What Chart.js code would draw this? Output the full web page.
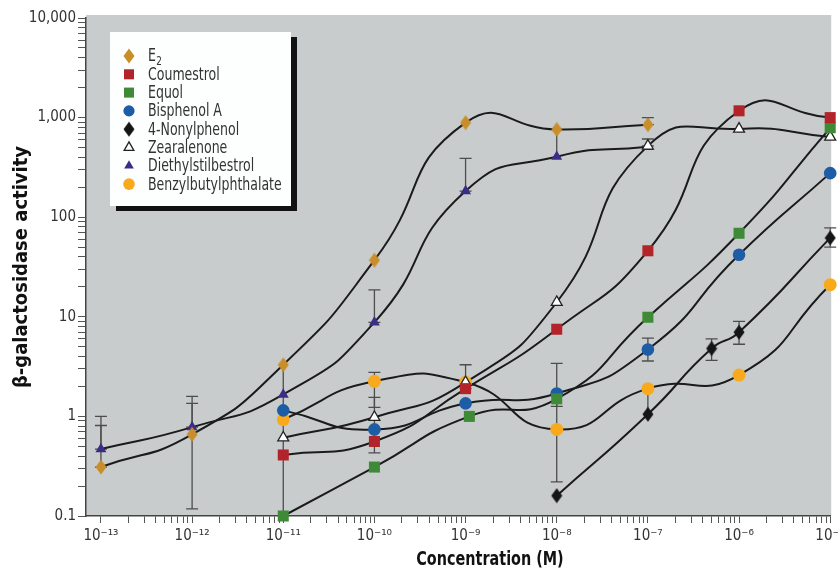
<!DOCTYPE html>
<html><head><meta charset="utf-8">
<script src="https://cdn.jsdelivr.net/npm/chart.js@4.4.1/dist/chart.umd.min.js"></script>
<style>html,body{margin:0;padding:0;background:#fff;} #wrap{width:838px;height:571px;position:relative;}</style>
</head><body><div id="wrap"><canvas id="c" width="838" height="571"></canvas></div>
<script>
// ---------- DATA ----------
const seriesNames = ['E\u2082','Coumestrol','Equol','Bisphenol A','4-Nonylphenol','Zearalenone','Diethylstilbestrol','Benzylbutylphthalate'];
const e2Conc    = [1e-13,1e-12,1e-11,1e-10,1e-9,1e-8,1e-7];
const e2Act     = [0.31,0.66,3.3,37,890,760,850];
const coumConc  = [1e-11,1e-10,1e-9,1e-8,1e-7,1e-6,1e-5];
const coumAct   = [0.41,0.56,1.9,7.5,46,1170,1000];
const equolConc = [1e-11,1e-10,1.1e-9,1e-8,1e-7,1e-6,1e-5];
const equolAct  = [0.1,0.31,1.0,1.5,9.9,69,790];
const bpaConc   = [1e-11,1e-10,1e-9,1e-8,1e-7,1e-6,1e-5];
const bpaAct    = [1.15,0.74,1.35,1.7,4.7,42,277];
const npConc    = [1e-8,1e-7,5e-7,1e-6,1e-5];
const npAct     = [0.16,1.05,4.8,7.0,62];
const zearConc  = [1e-11,1e-10,1e-9,1e-8,1e-7,1e-6,1e-5];
const zearAct   = [0.61,0.98,2.2,14,520,770,640];
const desConc   = [1e-13,1e-12,1e-11,1e-10,1e-9,1e-8,1e-7];
const desAct    = [0.47,0.78,1.66,8.8,183,405,510];
const bbpConc   = [1e-11,1e-10,1e-9,1e-8,1e-7,1e-6,1e-5];
const bbpAct    = [0.93,2.25,2.2,0.74,1.9,2.6,21];

// error bars (concentration, low, high, caps drawn?)
const errConc = [1e-13,1e-13,1e-12,1e-12,1e-11,1e-10,1e-10,1e-10,1e-9,1e-9,1e-8,1e-8,1e-8,1e-7,1e-7,1e-7,1e-7,5e-7,1e-6,1e-5];
const errLow  = [0.31,0.47,0.118,0.78,0.1,0.43,1.23,8.8,183,1.9,0.22,1.26,405,850,520,3.6,1.05,3.65,5.3,50];
const errHigh = [1.0,0.81,1.59,1.35,3.3,2.77,1.55,18.6,390,3.3,3.4,1.7,760,1000,610,6.1,1.9,6.0,9.0,78];
const errCaps = [1,1,1,1,0,1,1,1,1,1,1,1,0,1,1,1,0,1,1,1];

const xTickExp    = [-13,-12,-11,-10,-9,-8,-7,-6,-5];
const xTickLabels = ['10\u207B\u00B9\u00B3','10\u207B\u00B9\u00B2','10\u207B\u00B9\u00B9','10\u207B\u00B9\u2070','10\u207B\u2079','10\u207B\u2078','10\u207B\u2077','10\u207B\u2076','10\u207B\u2075'];
const yTickExp    = [-1,0,1,2,3,4];
const yTickLabels = ['0.1','1','10','100','1,000','10,000'];

const xTitle = 'Concentration (M)';
const yTitle = '\u03B2-galactosidase activity';

// ---------- STYLE ----------
const FONT = "'Liberation Sans Narrow','DejaVu Sans Condensed','Liberation Sans',sans-serif";
Chart.defaults.font.family = FONT;

function diamond(color, stroke) {
  const c = document.createElement('canvas');
  c.width = 12; c.height = 16;
  const g = c.getContext('2d');
  g.beginPath(); g.moveTo(6,0.5); g.lineTo(11.5,8); g.lineTo(6,15.5); g.lineTo(0.5,8); g.closePath();
  g.fillStyle = color; g.fill();
  if (stroke) { g.strokeStyle = stroke; g.lineWidth = 1; g.stroke(); }
  return c;
}

const styles = [
  {pointStyle: diamond('#c98e2a'), color:'#c98e2a', r:7, bw:0, bc:'#c98e2a'},
  {pointStyle: 'rect', color:'#b3232a', r:7.8, bw:0, bc:'#b3232a'},
  {pointStyle: 'rect', color:'#3e8a36', r:7.8, bw:0, bc:'#3e8a36'},
  {pointStyle: 'circle', color:'#1d5da6', r:6.3, bw:0, bc:'#1d5da6'},
  {pointStyle: diamond('#151515'), color:'#151515', r:7, bw:0, bc:'#151515'},
  {pointStyle: 'triangle', color:'#ffffff', r:6.3, bw:1.3, bc:'#222222'},
  {pointStyle: 'triangle', color:'#3a2d86', r:6.3, bw:0, bc:'#3a2d86'},
  {pointStyle: 'circle', color:'#f9aa1c', r:6.5, bw:0, bc:'#f9aa1c'}
];
const allConc = [e2Conc,coumConc,equolConc,bpaConc,npConc,zearConc,desConc,bbpConc];
const allAct  = [e2Act,coumAct,equolAct,bpaAct,npAct,zearAct,desAct,bbpAct];

const datasets = [];
allConc.forEach((cc, k) => {
  const pts = cc.map((x,i) => ({x, y: allAct[k][i]}));
  datasets.push({label: seriesNames[k] + ' line', data: pts, showLine: true, pointRadius: 0,
    borderColor: '#1b1b1b', borderWidth: 2, tension: 0.55, order: 2, clip: false});
  datasets.push({label: seriesNames[k], data: pts, showLine: false,
    pointStyle: styles[k].pointStyle, pointRadius: styles[k].r, pointHoverRadius: styles[k].r,
    pointBackgroundColor: styles[k].color, pointBorderColor: styles[k].bc, pointBorderWidth: styles[k].bw,
    order: 1, clip: false});
});

function decadeTicks(e0, e1) {
  const t = [];
  for (let e = e0; e < e1; e++) for (let m = 1; m <= 9; m++) t.push({value: m * Math.pow(10, e)});
  t.push({value: Math.pow(10, e1)});
  return t;
}
function labelFor(value, exps, labels) {
  const e = Math.round(Math.log10(value));
  if (Math.abs(Math.log10(value) - e) > 1e-6) return '';
  const i = exps.indexOf(e);
  return i >= 0 ? labels[i] : '';
}

const bgPlugin = {
  id: 'bg',
  beforeDraw(chart) {
    const {ctx, chartArea: a} = chart;
    ctx.save(); ctx.fillStyle = '#c9cccd';
    ctx.fillRect(a.left, a.top - 3, a.right - a.left + 1, a.bottom - a.top + 3);
    ctx.restore();
  }
};

const errPlugin = {
  id: 'errbars',
  beforeDatasetsDraw(chart) {
    const {ctx, scales: {x, y}} = chart;
    ctx.save(); ctx.strokeStyle = '#4d4d4d'; ctx.lineWidth = 1.3;
    errConc.forEach((c, i) => {
      const px = x.getPixelForValue(c);
      const y1 = y.getPixelForValue(errLow[i]), y2 = y.getPixelForValue(errHigh[i]);
      ctx.beginPath(); ctx.moveTo(px, y1); ctx.lineTo(px, y2);
      if (errCaps[i]) { ctx.moveTo(px-6, y1); ctx.lineTo(px+6, y1); ctx.moveTo(px-6, y2); ctx.lineTo(px+6, y2); }
      ctx.stroke();
    });
    ctx.restore();
  }
};

const SUBS = {'\u2082': '2'};
const legendPlugin = {
  id: 'customLegend',
  afterDraw(chart) {
    const ctx = chart.ctx;
    const bx = 110, by = 32, bw = 181, bh = 174;
    ctx.save();
    ctx.fillStyle = '#111'; ctx.fillRect(bx + 6, by + 5, bw, bh);
    ctx.fillStyle = '#fdfefe'; ctx.fillRect(bx, by, bw, bh);
    seriesNames.forEach((name, k) => {
      const yy = 56 + k * 18.3;
      const st = styles[k];
      const opts = {pointStyle: st.pointStyle, radius: st.r - 0.7, rotation: 0, borderWidth: st.bw};
      ctx.fillStyle = st.color; ctx.strokeStyle = st.bc; ctx.lineWidth = st.bw;
      Chart.helpers.drawPoint(ctx, opts, 129, yy);
      ctx.save();
      ctx.translate(148, yy + 1); ctx.scale(0.82, 1);
      ctx.textBaseline = 'middle'; ctx.textAlign = 'left';
      ctx.font = '17px ' + FONT; ctx.fillStyle = '#333';
      const last = name.slice(-1);
      if (SUBS[last]) {
        const base = name.slice(0, -1);
        ctx.fillText(base, 0, 0);
        const w = ctx.measureText(base).width;
        ctx.font = '12px ' + FONT;
        ctx.fillText(SUBS[last], w + 0.5, 5);
      } else {
        ctx.fillText(name, 0, 0);
      }
      ctx.restore();
    });
    // x-axis title
    ctx.save();
    ctx.translate(490, 560); ctx.scale(0.8, 1);
    ctx.textAlign = 'center'; ctx.textBaseline = 'middle';
    ctx.font = 'bold 20px ' + FONT; ctx.fillStyle = '#111';
    ctx.fillText(xTitle, 0, 0);
    ctx.restore();
    ctx.restore();
  }
};

new Chart(document.getElementById('c'), {
  type: 'scatter',
  data: {datasets},
  plugins: [bgPlugin, errPlugin, legendPlugin],
  options: {
    responsive: false, animation: false,
    layout: {padding: {left: 10, right: 7, top: 18, bottom: 0}},
    plugins: {legend: {display: false}, tooltip: {enabled: false}},
    events: [],
    scales: {
      x: {
        type: 'logarithmic', min: Math.pow(10, -13.164), max: 1e-5,
        afterBuildTicks: s => { s.ticks = decadeTicks(-13, -5); },
        afterFit: s => { s.height = 55; s.paddingLeft = 0; s.paddingRight = 0; },
        ticks: {autoSkip: false, maxRotation: 0, minRotation: 0, padding: 4, color: '#333',
          font: {size: 15}, callback: v => labelFor(v, xTickExp, xTickLabels)},
        grid: {drawOnChartArea: false, drawTicks: true, tickLength: 7, color: '#555', lineWidth: 1},
        border: {display: true, color: '#444', width: 1.5},
        title: {display: false}
      },
      y: {
        type: 'logarithmic', min: 0.1, max: 10000,
        afterBuildTicks: s => { s.ticks = decadeTicks(-1, 4); },
        afterFit: s => { s.width = 76; s.paddingTop = 0; s.paddingBottom = 0; },
        ticks: {autoSkip: false, padding: 2, color: '#333', font: {size: 15},
          callback: v => labelFor(v, yTickExp, yTickLabels)},
        grid: {drawOnChartArea: false, drawTicks: true, tickLength: 8, color: '#555', lineWidth: 1},
        border: {display: true, color: '#444', width: 1.5},
        title: {display: true, text: yTitle, color: '#111', font: {size: 20, weight: 'bold'}, padding: 0}
      }
    }
  }
});
</script>
</body></html>
